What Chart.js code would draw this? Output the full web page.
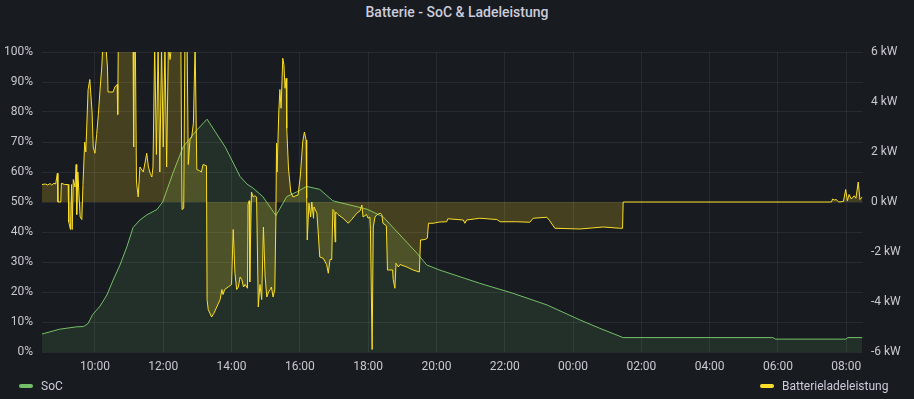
<!DOCTYPE html>
<html>
<head>
<meta charset="utf-8">
<title>Batterie - SoC & Ladeleistung</title>
<script src="https://cdn.jsdelivr.net/npm/chart.js@4.4.0/dist/chart.umd.min.js"></script>
<style>
  body { margin: 0; background: #181b1f; font-family: Roboto, sans-serif; }
  #panel { position: relative; width: 914px; height: 399px; overflow: hidden; }
  #title { position: absolute; top: 3px; left: 0; width: 914px; text-align: center;
           color: #ccccdc; font-size: 14px; font-weight: 500; line-height: 18px; }
  #chart { position: absolute; left: 0; top: 0; }
  .legend { position: absolute; top: 378px; display: flex; align-items: center;
            font-size: 12px; line-height: 16px; color: #ccccdc; }
  .swatch { width: 14px; height: 4px; border-radius: 2px; margin-right: 8px; }
</style>
</head>
<body>
<div id="panel">
  <div id="title">Batterie - SoC &amp; Ladeleistung</div>
  <canvas id="chart" width="914" height="399"></canvas>
  <div class="legend" style="left:19px"><span class="swatch" style="background:#73bf69"></span>SoC</div>
  <div class="legend" style="left:760px"><span class="swatch" style="background:#fade2a"></span>Batterieladeleistung</div>
</div>
<script>
// state of charge (%)
const socTimes = ['08:27','08:58','09:28','09:40','09:48','09:56','10:09','10:21','10:32','10:44',
  '10:56','11:07','11:19','11:31','11:49','11:59','12:17','12:35','12:59','13:17',
  '13:49','14:15','14:27','14:38','14:55','15:18','15:37','15:56','16:12','16:35',
  '16:58','17:28','17:58','18:26','18:56','19:26','19:43','20:06','21:16','22:14',
  '23:14','00:12','00:47','01:28','05:51','05:56','07:59','08:03','08:28'];
const socPct = [6.0, 7.6, 8.4, 8.5, 9.5, 12.5, 15.3, 19.0, 24.0, 29.0,
  35.0, 41.5, 44.0, 45.7, 47.5, 50.0, 59.6, 68.4, 74.0, 77.6,
  68.3, 58.5, 56.0, 54.6, 51.8, 45.5, 51.8, 53.5, 55.2, 54.2,
  50.4, 49.0, 47.6, 45.1, 39.0, 32.9, 29.0, 27.3, 22.9, 19.6,
  15.7, 10.7, 7.9, 4.8, 4.8, 4.3, 4.3, 4.8, 4.8];

// battery charge power (kW), positive = charging
const powerTimes = ['08:27','08:33','08:37','08:41','08:44','08:48','08:51','08:54','08:55','09:00',
  '09:01','09:07','09:13','09:14','09:17','09:19','09:20','09:22','09:25','09:27',
  '09:28','09:30','09:34','09:37','09:39','09:42','09:44','09:48','09:51','09:55',
  '09:57','10:00','10:03','10:06','10:09','10:12','10:14','10:19','10:22','10:23',
  '10:32','10:35','10:39','10:40','10:41','11:07','11:08','11:09','11:11','11:13',
  '11:16','11:19','11:25','11:31','11:34','11:37','11:40','11:42','11:45','11:48',
  '11:51','11:54','11:57','12:00','12:03','12:06','12:09','12:12','12:15','12:31',
  '12:33','12:36','12:38','12:42','12:44','12:47','12:50','12:53','12:56','12:59',
  '13:04','13:07','13:10','13:16','13:17','13:19','13:25','13:29','13:34','13:40',
  '13:43','13:45','13:48','13:54','14:00','14:03','14:06','14:09','14:12','14:15',
  '14:18','14:21','14:24','14:28','14:29','14:31','14:32','14:35','14:38','14:41',
  '14:44','14:47','14:50','14:53','14:56','14:59','15:02','15:05','15:08','15:10',
  '15:13','15:16','15:18','15:19','15:20','15:23','15:25','15:27','15:30','15:32',
  '15:34','15:36','15:37','15:40','15:44','15:48','15:53','15:57','16:01','16:05',
  '16:08','16:11','16:12','16:13','16:16','16:19','16:21','16:24','16:25','16:30',
  '16:32','16:35','16:41','16:47','16:50','16:53','16:56','16:58','17:00','17:02',
  '17:03','17:07','17:16','17:25','17:31','17:40','17:46','17:49','17:51','17:57',
  '18:00','18:03','18:04','18:07','18:09','18:12','18:15','18:21','18:24','18:26',
  '18:32','18:34','18:38','18:43','18:44','18:47','18:49','18:53','18:56','19:08',
  '19:19','19:30','19:32','19:40','19:44','19:46','19:54','20:06','20:18','20:20',
  '20:47','20:50','20:53','21:16','21:46','21:52','22:21','22:44','22:50','23:14',
  '23:19','23:28','00:12','00:53','01:05','01:22','01:27','01:28','07:34','07:36',
  '07:39','07:42','07:47','07:55','07:59','08:02','08:05','08:09','08:14','08:17',
  '08:21','08:24','08:28'];
const powerKw = [0.70, 0.72, 0.68, 0.74, 0.68, 0.75, 0.72, 1.15, 0.00, 0.00,
  0.75, 0.70, 0.70, -0.80, -1.10, 0.70, -1.10, 0.90, 0.60, 1.50,
  -0.50, 1.20, -0.60, -0.70, 0.70, 2.40, 2.00, 4.50, 4.90, 3.60,
  2.20, 1.95, 2.70, 3.50, 4.50, 5.40, 6.30, 6.30, 5.40, 4.40,
  4.40, 4.60, 4.70, 3.50, 6.30, 6.30, 2.20, 6.30, 6.30, 0.80,
  0.20, 1.40, 1.20, 1.95, 1.40, 1.15, 1.00, 1.40, 6.30, 1.90,
  6.30, 1.20, 6.30, 2.20, 6.30, 1.40, 6.30, 5.70, 6.30, 6.30,
  -0.30, -0.25, 6.30, 6.30, 1.50, 2.50, 2.60, 3.15, 6.30, 1.30,
  1.25, 1.20, 1.50, 1.45, -3.90, -4.30, -4.60, -4.45, -4.20, -3.90,
  -3.50, -3.70, -3.50, -3.40, -3.30, -1.10, -2.85, -3.50, -3.40, -3.00,
  -3.10, -3.40, -3.30, -3.45, -0.10, 0.05, -3.20, 0.40, 0.20, 0.25,
  0.20, -4.20, -3.30, -3.90, -1.00, -3.00, -3.80, -3.60, -3.50, -3.40,
  -3.80, -3.50, -0.50, 2.35, 1.20, 3.60, 4.50, 3.75, 5.75, 5.50,
  4.55, 4.95, 2.95, 1.36, 0.40, 0.20, 0.25, 0.28, 1.08, 2.40,
  2.80, 2.48, 0.16, -1.52, -0.05, -0.60, 0.00, -0.65, -0.20, -0.45,
  -1.12, -2.20, -2.25, -2.50, -2.85, -2.30, -2.30, -0.30, -0.35, -1.60,
  -0.40, -0.50, -0.65, -0.85, -0.70, -0.45, -0.35, -0.12, -0.60, -0.50,
  -0.65, -0.60, -1.10, -5.90, -1.00, -0.60, -0.52, -0.45, -0.50, -0.85,
  -0.95, -2.72, -2.72, -2.72, -3.10, -3.45, -2.45, -2.60, -2.50, -2.60,
  -2.72, -2.80, -1.52, -1.50, -1.45, -0.85, -0.85, -0.80, -0.79, -0.67,
  -0.72, -0.85, -0.72, -0.65, -0.70, -0.79, -0.79, -0.81, -0.65, -0.61,
  -0.75, -1.05, -1.08, -1.00, -1.02, -1.05, -1.05, 0.00, 0.00, 0.12,
  0.08, 0.10, 0.00, 0.02, 0.50, 0.05, 0.30, 0.12, 0.25, 0.15,
  0.80, 0.10, 0.20];

// x ticks in hours from the first midnight (24 = 00:00 next day)
const timeTicks = [10, 12, 14, 16, 18, 20, 22, 24, 26, 28, 30, 32];
const socTicksStep = 10;
const powerTicksStep = 2;

// "HH:MM" -> hours, rolling over midnight
function toHours(times) {
    let offset = 0, prev = -1;
    return times.map(t => {
        const [h, m] = t.split(':').map(Number);
        let v = h + m / 60 + offset;
        if (v < prev) { offset += 24; v += 24; }
        prev = v;
        return v;
    });
}

function toPoints(times, values) {
    const hrs = toHours(times);
    return hrs.map((x, i) => ({ x: x, y: values[i] }));
}

const tickColor = '#c8c9d2';
const gridColor = 'rgba(204,204,220,0.09)';
const tickFont = { family: 'Roboto', size: 12 };

new Chart(document.getElementById('chart'), {
    type: 'line',
    data: {
        datasets: [{
            label: 'Batterieladeleistung',
            data: toPoints(powerTimes, powerKw),
            yAxisID: 'y1',
            borderColor: '#fade2a',
            backgroundColor: 'rgba(250,222,42,0.2)',
            borderWidth: 1,
            fill: 'origin',
            order: 0
        }, {
            label: 'SoC',
            data: toPoints(socTimes, socPct),
            yAxisID: 'y',
            borderColor: '#73bf69',
            backgroundColor: 'rgba(115,191,105,0.13)',
            borderWidth: 1,
            fill: 'origin',
            order: 1
        }]
    },
    options: {
        responsive: false,
        animation: false,
        parsing: false,
        layout: { padding: { top: 52, bottom: 23, left: 0, right: 0 } },
        elements: { point: { radius: 0 }, line: { tension: 0 } },
        plugins: { legend: { display: false }, tooltip: { enabled: false } },
        scales: {
            x: {
                type: 'linear',
                min: 8.45,
                max: 32.49,
                afterFit: s => { s.height = 24; },
                afterBuildTicks: s => { s.ticks = timeTicks.map(v => ({ value: v })); },
                border: { display: false },
                grid: { color: gridColor, drawTicks: false },
                ticks: {
                    color: tickColor, font: tickFont, padding: 8, maxRotation: 0,
                    callback: v => String(v % 24).padStart(2, '0') + ':00'
                }
            },
            y: {
                position: 'left',
                min: 0,
                max: 100,
                afterFit: s => { s.width = 42; },
                border: { display: false },
                grid: { color: gridColor, drawTicks: false },
                ticks: {
                    stepSize: socTicksStep, color: tickColor, font: tickFont, padding: 9,
                    callback: v => v + '%'
                }
            },
            y1: {
                position: 'right',
                min: -6,
                max: 6,
                afterFit: s => { s.width = 51; },
                border: { display: false },
                grid: { display: false, drawTicks: false },
                ticks: {
                    stepSize: powerTicksStep, color: tickColor, font: tickFont, padding: 8,
                    callback: v => v + ' kW'
                }
            }
        }
    }
});
</script>
</body>
</html>
